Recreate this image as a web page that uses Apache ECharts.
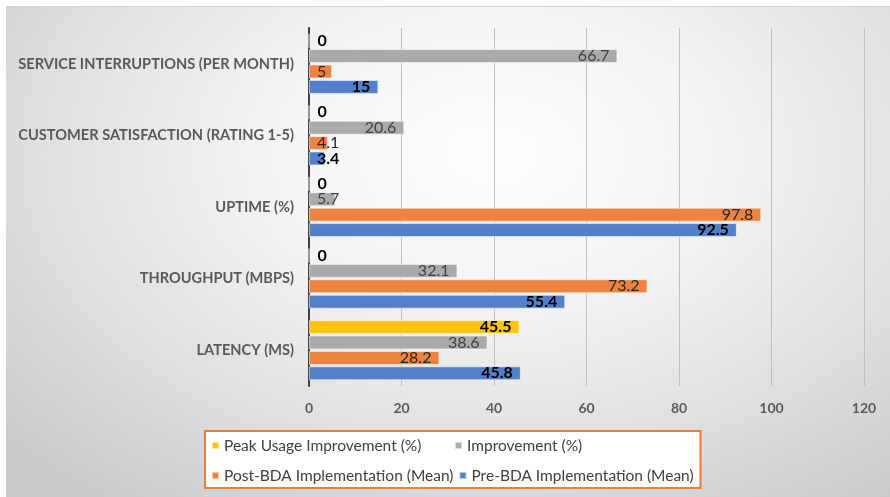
<!DOCTYPE html>
<html>
<head>
<meta charset="utf-8">
<script src="https://cdn.jsdelivr.net/npm/echarts@6/dist/echarts.min.js"></script>
<style>
  html, body { margin: 0; padding: 0; background: #fff; }
  #main {
    position: absolute;
    left: 6px;
    top: 6px;
    width: 884px;
    height: 491px;
    border-top: 1px solid #d4d4d4;
    box-sizing: border-box;
    background: radial-gradient(ellipse 75% 90% at 55% 30%, #ffffff 0%, #f3f3f3 35%, #dedede 70%, #c9c9c9 100%);
  }
</style>
</head>
<body>
<div id="main"></div>
<script>
  // categories, bottom to top
  let categories = ['LATENCY (MS)', 'THROUGHPUT (MBPS)', 'UPTIME (%)', 'CUSTOMER SATISFACTION (RATING 1-5)', 'SERVICE INTERRUPTIONS (PER MONTH)']

  let preBDA = [45.8, 55.4, 92.5, 3.4, 15]
  let postBDA = [28.2, 73.2, 97.8, 4.1, 5]
  let improvement = [38.6, 32.1, 5.7, 20.6, 66.7]
  let peakUsage = [45.5, 0, 0, 0, 0]

  let xTicks = { min: 0, max: 120, interval: 20 }

  let seriesNames = ['Peak Usage Improvement (%)', 'Improvement (%)', 'Post-BDA Implementation (Mean)', 'Pre-BDA Implementation (Mean)']

  let font = 'Lato, "Open Sans", sans-serif'

  // label placement like Excel "inside end", zeros sit just right of the axis
  function withLabels(arr) {
    return arr.map(function (v) {
      let pos = 'insideRight'
      if (v === 0) pos = 'right'
      else if (v < 6) pos = 'insideLeft'
      return { value: v, label: { position: pos } }
    })
  }

  function barSeries(name, data, color, labelColor, bold) {
    return {
      name: name,
      type: 'bar',
      data: withLabels(data),
      barWidth: 14,
      barGap: '10%',
      itemStyle: {
        color: color,
        borderColor: 'rgba(255,255,255,0.55)',
        borderWidth: 1
      },
      label: {
        show: true,
        distance: 8,
        fontFamily: font,
        fontSize: 16,
        fontWeight: bold ? 'bold' : 'normal',
        color: labelColor
      }
    }
  }

  let myChart = echarts.init(document.getElementById('main'))
  let option = {
    animation: false,
    grid: {
      left: 303,
      right: 26,
      top: 21,
      bottom: 111
    },
    legend: {
      data: seriesNames,
      left: 199,
      top: 424,
      width: 600,
      icon: 'rect',
      itemWidth: 7,
      itemHeight: 7,
      itemGap: 5,
      padding: [2, 4, 0, 6],
      backgroundColor: '#ffffff',
      borderColor: '#ED7D31',
      borderWidth: 2,
      textStyle: {
        fontFamily: font,
        fontSize: 15.5,
        color: '#404040',
        width: 225,
        lineHeight: 25
      }
    },
    xAxis: {
      type: 'value',
      min: xTicks.min,
      max: xTicks.max,
      interval: xTicks.interval,
      axisLine: { show: false },
      axisTick: { show: false },
      axisLabel: {
        margin: 15,
        fontFamily: font,
        fontSize: 14,
        fontWeight: 'bold',
        color: '#595959'
      },
      splitLine: {
        lineStyle: { color: '#c0c0c0', width: 1 }
      }
    },
    yAxis: {
      type: 'category',
      data: categories,
      axisLine: {
        show: true,
        lineStyle: { color: '#404040', width: 2 }
      },
      axisTick: { show: false },
      axisLabel: {
        margin: 15,
        fontFamily: font,
        fontSize: 14.6,
        fontWeight: 'bold',
        color: '#595959'
      }
    },
    series: [
      barSeries(seriesNames[0], peakUsage, '#FFC20E', '#000000', true),
      barSeries(seriesNames[1], improvement, '#AAAAAA', '#404040', false),
      barSeries(seriesNames[2], postBDA, '#EE8340', '#262626', false),
      barSeries(seriesNames[3], preBDA, '#5280CC', '#000000', true)
    ]
  }
  myChart.setOption(option)
</script>
</body>
</html>
